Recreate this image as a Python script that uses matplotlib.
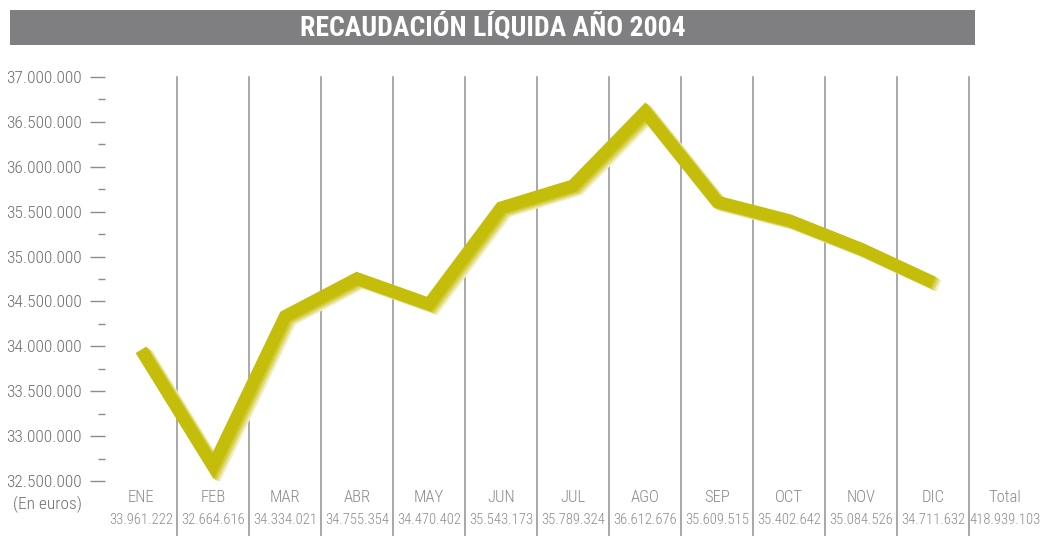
import matplotlib
matplotlib.use("Agg")
import matplotlib.pyplot as plt
import matplotlib.patheffects as pe
from matplotlib.ticker import MultipleLocator, FuncFormatter
from matplotlib.patches import Rectangle

months = ["ENE", "FEB", "MAR", "ABR", "MAY", "JUN", "JUL", "AGO", "SEP", "OCT", "NOV", "DIC"]
values = [33961222, 32664616, 34334021, 34755354, 34470402, 35543173,
          35789324, 36612676, 35609515, 35402642, 35084526, 34711632]
total_label = "Total"
total_value = 418939103
title = "RECAUDACIÓN LÍQUIDA AÑO 2004"
unit_label = "(En euros)"

def es_fmt(v):
    return f"{int(round(v)):,}".replace(",", ".")

plt.rcParams['font.family'] = ['Roboto Condensed', 'DejaVu Sans']

W, H = 1047, 536
fig = plt.figure(figsize=(W / 100, H / 100), dpi=100)
fig.patch.set_facecolor("white")

# title bar
fig.patches.append(Rectangle((10 / W, 1 - 45 / H), 965 / W, 35 / H,
                             transform=fig.transFigure, facecolor="#7f7f81",
                             edgecolor="none"))
fig.text(492.5 / W, 1 - 27.5 / H, title, ha="center", va="center",
         color="white", fontsize=20, fontweight="bold")

# axes
left, right = 105, 1041
top, bottom = 77, 481
ax = fig.add_axes([left / W, 1 - bottom / H, (right - left) / W, (bottom - top) / H])
ax.set_xlim(-0.5, 12.5)
ax.set_ylim(32500000, 37000000)
for s in ax.spines.values():
    s.set_visible(False)
ax.set_facecolor("none")

ax.yaxis.set_major_locator(MultipleLocator(500000))
ax.yaxis.set_minor_locator(MultipleLocator(250000))
ax.yaxis.set_major_formatter(FuncFormatter(lambda v, p: es_fmt(v)))
ax.tick_params(axis="y", which="major", length=11, width=1.0, color="#8c8c8c",
               labelcolor="#6e6e6e", labelsize=12.5, pad=6)
ax.tick_params(axis="y", which="minor", length=5, width=1.0, color="#8c8c8c")
for lab in ax.get_yticklabels():
    lab.set_fontweight("light")
ax.set_xticks([])

# vertical separators
for i in range(12):
    ax.axvline(i + 0.5, ymin=-0.2, ymax=1.0, color="#9a9a9a", lw=1.2, clip_on=False, zorder=1)

# line with shading
xs = list(range(12))
ax.plot(xs, values, color="#c4bd0a", lw=9, solid_joinstyle="miter",
        solid_capstyle="butt", zorder=3,
        path_effects=[
            pe.SimpleLineShadow(offset=(4.2, -2.6), shadow_color="#f0edc0", alpha=1.0),
            pe.SimpleLineShadow(offset=(2.8, -1.8), shadow_color="#e0da78", alpha=1.0),
            pe.SimpleLineShadow(offset=(1.4, -0.9), shadow_color="#d0ca36", alpha=1.0),
            pe.Normal()])

# bottom labels
lab_color = "#8a8a8a"
trans = ax.get_xaxis_transform()
y_month = -(497 - bottom) / (bottom - top)
y_val = -(520 - bottom) / (bottom - top)
for i, (m, v) in enumerate(zip(months, values)):
    ax.text(i, y_month, m, transform=trans, ha="center", va="center",
            color=lab_color, fontsize=12, fontweight="light", clip_on=False)
    ax.text(i, y_val, es_fmt(v), transform=trans, ha="center", va="center",
            color=lab_color, fontsize=10.5, fontweight="light", clip_on=False)
ax.text(12, y_month, total_label, transform=trans, ha="center", va="center",
        color=lab_color, fontsize=12, fontweight="light", clip_on=False)
ax.text(12, y_val, es_fmt(total_value), transform=trans, ha="center", va="center",
        color=lab_color, fontsize=10.5, fontweight="light", clip_on=False)

fig.text(82 / W, 1 - 504 / H, unit_label, ha="right", va="center",
         color="#6e6e6e", fontsize=12.5, fontweight="light")

fig.savefig("out.png", dpi=100)
